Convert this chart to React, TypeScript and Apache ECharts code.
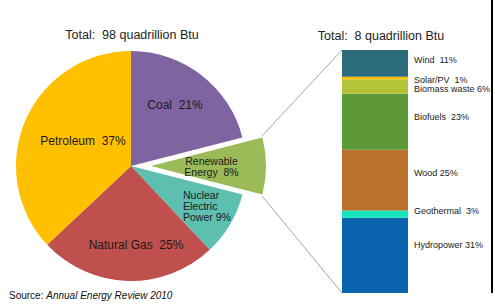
import React, { useEffect, useRef } from "react";
import * as echarts from "echarts";

// Total U.S. energy consumption by source (percent)
const pieNames = ["Coal", "Renewable\nEnergy", "Nuclear\nElectric\nPower", "Natural Gas", "Petroleum"];
const pieValues = [21, 8, 9, 25, 37];
const pieGaps = ["  ", "  ", " ", "  ", "  "];
const pieColors = ["#8064A2", "#9BBB59", "#5CBFAF", "#C0504D", "#FFC000"];

// Renewable energy breakdown (percent), stacked bottom to top
const barNames = ["Hydropower", "Geothermal", "Wood", "Biofuels", "Biomass waste", "Solar/PV", "Wind"];
const barValues = [31, 3, 25, 23, 6, 1, 11];
const barGaps = [" ", "  ", " ", "  ", " ", "  ", "  "];
const barColors = ["#0963AD", "#16E4BF", "#B9712C", "#5B9A36", "#B3C437", "#FFC000", "#2C6B79"];

const leftTitle = "Total:  98 quadrillion Btu";
const rightTitle = "Total:  8 quadrillion Btu";
const sourceLabel = "Source: ";
const sourceTitle = "Annual Energy Review 2010";

const FONT = "Liberation Sans, Arial, sans-serif";

export default function App() {
  const ref = useRef<HTMLDivElement>(null);

  useEffect(() => {
    if (!ref.current) return;
    const chart = echarts.init(ref.current, undefined, { renderer: "svg" });

    const pieLabelPos: Array<{ x: number; y: number; align: string }> = [
      { x: 175, y: 105, align: "center" },
      { x: 229, y: 165, align: "center" },
      { x: 183, y: 206, align: "left" },
      { x: 136, y: 245, align: "center" },
      { x: 83, y: 141, align: "center" },
    ];
    const pieFont = [12, 10.5, 10.5, 12, 12];
    const barLabelDy = [-10, -3, -7, -4.5, 3, 2, -3];

    const option: any = {
      animation: false,
      backgroundColor: "#ffffff",
      grid: { left: 342, top: 50, width: 66, height: 243 },
      xAxis: { type: "category", data: ["Renewable"], show: false },
      yAxis: { type: "value", min: 0, max: 100, show: false },
      series: [
        {
          type: "pie",
          center: [131, 166],
          radius: 115,
          startAngle: 90,
          clockwise: true,
          selectedMode: "single",
          selectedOffset: 20,
          emphasis: { disabled: true },
          itemStyle: { borderWidth: 0 },
          labelLine: { show: false },
          data: pieNames.map((n, i) => ({
            name: n,
            value: pieValues[i],
            selected: i === 1,
            itemStyle: { color: pieColors[i] },
            select: { itemStyle: { color: pieColors[i], borderWidth: 0 } },
            label: {
              show: true,
              position: "inside",
              fontSize: pieFont[i],
              lineHeight: pieFont[i] === 12 ? 14 : 11,
              color: "#1a1a1a",
              fontFamily: FONT,
              formatter: () => `${n}${pieGaps[i]}${pieValues[i]}%`,
            },
          })),
          labelLayout: (p: any) => {
            const q = pieLabelPos[p.dataIndex];
            return { x: q.x, y: q.y, align: q.align, verticalAlign: "middle" };
          },
        },
        ...barNames.map((n, i) => ({
          type: "bar",
          name: n,
          stack: "renew",
          barWidth: "100%",
          data: [barValues[i]],
          itemStyle: { color: barColors[i] },
          emphasis: { disabled: true },
          label: {
            show: true,
            position: "right",
            distance: 6,
            offset: [0, barLabelDy[i]],
            fontSize: 9,
            fontFamily: FONT,
            color: "#1a1a1a",
            formatter: () => `${n}${barGaps[i]}${barValues[i]}%`,
          },
        })),
      ],
      graphic: [
        {
          type: "text",
          x: 132,
          y: 35,
          style: { text: leftTitle, align: "center", verticalAlign: "middle", font: `12.5px ${FONT}`, fill: "#222" },
        },
        {
          type: "text",
          x: 381,
          y: 36,
          style: { text: rightTitle, align: "center", verticalAlign: "middle", font: `12.5px ${FONT}`, fill: "#222" },
        },
        {
          type: "text",
          x: 9,
          y: 295,
          style: {
            text: `{a|${sourceLabel}}{b|${sourceTitle}}`,
            verticalAlign: "middle",
            rich: {
              a: { fontSize: 10, fontFamily: FONT, fill: "#111" },
              b: { fontSize: 10, fontFamily: FONT, fontStyle: "italic", fill: "#111" },
            },
          },
        },
        {
          type: "line",
          shape: { x1: 262, y1: 136, x2: 342, y2: 50 },
          style: { stroke: "#A6A6A6", lineWidth: 1 },
        },
        {
          type: "line",
          shape: { x1: 262, y1: 196, x2: 342, y2: 293 },
          style: { stroke: "#A6A6A6", lineWidth: 1 },
        },
        {
          type: "rect",
          shape: { x: 491, y: 0, width: 2, height: 293 },
          style: { fill: "#000" },
        },
      ],
    };

    chart.setOption(option);
    return () => chart.dispose();
  }, []);

  return (
    <div
      ref={ref}
      style={{ position: "fixed", left: 0, top: 0, width: 495, height: 306, background: "#fff" }}
    />
  );
}
